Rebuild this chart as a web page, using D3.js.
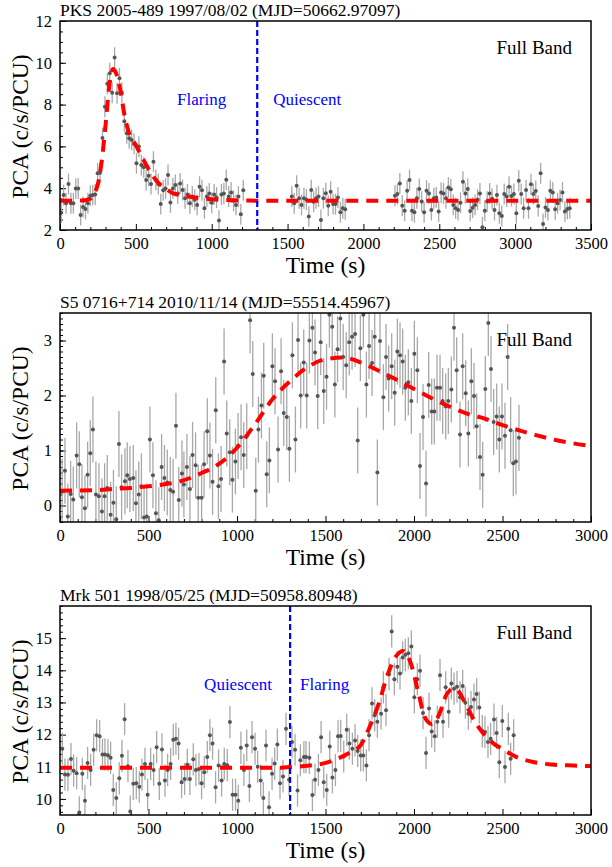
<!DOCTYPE html>
<html><head><meta charset="utf-8">
<script src="https://cdn.jsdelivr.net/npm/d3@7"></script>
<style>body{margin:0;background:#fff} svg{display:block} text{font-family:"Liberation Serif","Times New Roman",serif;fill:#000}</style>
</head><body><svg id="c" width="612" height="867"></svg>
<script>
// ---------------- DATA ----------------
const titles = ["PKS 2005-489 1997/08/02 (MJD=50662.97097)",
                "S5 0716+714 2010/11/14 (MJD=55514.45967)",
                "Mrk 501 1998/05/25 (MJD=50958.80948)"];
const xTickLabels1 = [0,500,1000,1500,2000,2500,3000,3500];
const xTickLabels23 = [0,500,1000,1500,2000,2500,3000];
const yTickLabels1 = [2,4,6,8,10,12];
const yTickLabels2 = [0,1,2,3];
const yTickLabels3 = [10,11,12,13,14,15];

// panel 1 light curve [time, rate]
const p1Points = [[8,2.83],[24,3.67],[40,3.28],[56,4.2],[72,3.28],[88,3.28],[104,3.98],[120,3.98],[136,2.72],[152,3.1],[168,3.0],[184,3.28],[200,3.64],[216,3.67],[232,3.7],[248,4.71],[264,4.74],[280,6.4],[296,7.9],[312,9.0],[328,9.5],[344,8.57],[360,10.25],[376,8.54],[392,9.26],[408,8.57],[424,7.2],[440,6.63],[456,6.39],[472,6.31],[488,6.12],[504,5.19],[520,5.99],[536,5.11],[552,5.0],[568,4.39],[584,4.6],[600,4.2],[616,5.27],[632,4.4],[648,4.2],[664,3.24],[680,3.9],[696,3.99],[712,4.63],[728,3.32],[744,3.99],[760,4.15],[776,3.75],[792,4.23],[808,3.91],[824,3.52],[840,3.7],[856,3.28],[872,3.6],[888,3.45],[904,3.2],[920,4.07],[936,3.9],[952,3.04],[968,3.6],[984,3.75],[1000,3.3],[1016,3.7],[1032,3.55],[1048,2.45],[1064,3.7],[1080,3.75],[1096,4.4],[1112,3.6],[1128,3.8],[1144,3.4],[1160,3.2],[1176,3.6],[1192,2.75],[1208,3.9],
[1528,3.6],[1544,3.28],[1560,4.12],[1576,3.52],[1592,3.2],[1608,3.52],[1624,3.45],[1640,2.64],[1656,3.91],[1672,3.35],[1688,3.52],[1704,3.6],[1720,2.48],[1736,3.52],[1752,3.76],[1768,3.16],[1784,3.83],[1800,3.24],[1816,3.24],[1832,3.55],[1848,2.85],[1864,3.04],[1880,2.99],
[2208,3.64],[2224,3.72],[2240,4.23],[2256,3.16],[2272,2.92],[2288,3.88],[2304,4.39],[2320,2.92],[2336,2.85],[2352,3.52],[2368,3.96],[2384,3.36],[2400,2.85],[2416,3.88],[2432,3.75],[2448,2.96],[2464,3.52],[2480,3.56],[2496,2.88],[2512,3.79],[2528,3.75],[2544,3.52],[2560,4.03],[2576,3.95],[2592,3.2],[2608,3.04],[2624,2.96],[2640,3.3],[2656,4.31],[2672,3.75],[2688,3.96],[2704,2.91],[2720,3.07],[2736,3.2],[2752,3.45],[2768,3.75],[2784,2.13],[2800,2.92],[2816,3.36],[2832,3.75],[2848,3.5],[2864,2.96],[2880,3.67],[2896,2.8],[2912,2.67],[2928,3.72],[2944,3.6],[2960,4.07],[2976,3.63],[2992,3.72],[3008,2.8],[3024,4.36],[3040,3.72],[3056,3.04],[3072,3.91],[3088,3.04],[3104,4.19],[3120,3.72],[3136,3.87],[3152,3.15],[3168,4.71],[3184,2.29],[3200,3.08],[3216,2.96],[3232,3.88],[3248,3.8],[3264,2.99],[3280,3.28],[3296,3.44],[3312,3.8],[3328,2.88],[3344,3.01],[3360,3.04]];
const p1Err = 0.5;
const p1Model = [[0,3.4],[150,3.41],[200,3.5],[225,3.75],[250,4.2],[275,5.3],[300,7.0],[325,8.9],[350,9.7],[375,9.4],[400,8.6],[425,7.5],[450,6.75],[500,6.06],[550,5.36],[600,4.72],[650,4.24],[700,3.96],[750,3.74],[800,3.66],[900,3.54],[1000,3.47],[1100,3.43],[1200,3.41],[1300,3.4],[3500,3.4]];

// panel 2
const p2Points = [[12,0.25],[28,0.63],[44,-0.2],[60,0.21],[75,0.11],[94,0.91],[109,0.75],[124,0.15],[141,-0.05],[156,0.56],[171,0.95],[186,1.38],[203,0.2],[220,0.17],[237,-0.11],[252,0.17],[267,0.32],[286,-0.17],[302,0.05],[318,-0.25],[333,1.12],[348,0.33],[367,0.44],[380,0.55],[395,0.48],[414,0.5],[429,0.04],[445,0.2],[460,0.35],[475,-0.22],[490,-0.2],[508,1.2],[525,0.55],[542,-0.14],[558,-0.27],[574,0.7],[590,0.5],[606,0.42],[623,0.28],[639,0.25],[655,1.45],[671,0.1],[689,0.58],[700,0.38],[717,0.7],[734,0.3],[749,0.92],[766,0.73],[781,0.14],
[800,0.14],[814,0.75],[832,1.35],[847,0.91],[862,0.43],[880,1.73],[895,0.35],[910,0.48],[927,2.62],[942,1.31],[959,0.97],[974,0.47],[991,0.8],[1006,1.08],[1023,1.24],[1038,0.92],[1055,1.26],[1074,3.37],[1089,2.39],[1106,0.27],[1121,1.38],[1138,1.82],[1151,2.36],[1168,0.57],[1183,0.82],[1200,2.53],[1215,2.26],[1232,1.02],[1249,2.44],[1264,1.68],[1281,1.61],[1296,1.03],[1313,2.73],[1330,1.2],[1345,3.01],[1360,2.0],[1377,2.6],[1394,2.0],
[1409,3.0],[1426,3.23],[1441,2.78],[1456,1.99],[1473,2.97],[1490,2.08],[1506,2.34],[1522,3.47],[1538,3.25],[1553,2.2],[1568,2.84],[1584,3.4],[1600,2.7],[1617,2.55],[1634,2.97],[1650,3.07],[1667,3.12],[1682,1.18],[1697,2.86],[1714,3.47],[1731,2.2],[1746,2.9],[1763,2.59],[1778,3.07],[1793,0.6],[1808,2.99],[1827,1.97],[1842,2.7],[1857,2.31],[1874,2.53],[1891,2.05],[1906,2.8],[1921,2.73],[1936,2.62],[1951,2.14],[1968,2.24],[1985,1.9],[2002,2.76],[2019,2.46],[2034,0.72],[2051,1.61],[2068,0.4],[2083,2.19],[2100,1.71],[2115,1.71],[2130,2.14],[2147,2.14],[2162,1.9],[2179,1.8],[2194,1.9],[2211,2.11],[2226,3.23],[2241,2.46],[2260,1.29],[2275,2.53],[2292,2.04],[2307,1.31],[2324,2.26],[2339,1.99],[2354,1.44],[2373,0.88],[2388,0.56],[2403,2.12],[2420,3.32],[2435,2.48],[2450,1.52],[2467,1.62],[2482,1.2],[2497,1.62],[2514,1.27],[2529,2.7],[2546,1.37],[2561,0.77],[2576,0.8],[2593,1.23]];
const p2Err = 0.6;
const p2Model = [[0,0.27],[200,0.28],[300,0.3],[400,0.32],[500,0.35],[600,0.39],[700,0.46],[800,0.59],[900,0.76],[1000,1.05],[1100,1.47],[1200,1.93],[1300,2.26],[1400,2.52],[1500,2.66],[1600,2.69],[1700,2.6],[1800,2.45],[1900,2.29],[2000,2.12],[2100,1.95],[2200,1.8],[2300,1.67],[2400,1.58],[2500,1.46],[2600,1.36],[2700,1.27],[2800,1.19],[2900,1.13],[3000,1.08]];

// panel 3
const p3Points = [[13,11.56],[28,10.76],[45,10.75],[62,11.24],[77,10.88],[94,10.8],[109,9.58],[126,10.78],[141,9.94],[156,11.12],[173,10.9],[190,11.53],[207,11.98],[224,11.95],[240,11.38],[254,11.38],[271,11.36],[286,11.28],[301,10.28],[318,10.03],[335,10.64],[350,11.34],[365,12.48],[384,11.02],[397,9.61],[414,10.47],[431,10.49],[448,10.38],[463,10.76],[480,11.09],[495,10.13],[512,11.09],[529,10.9],[546,11.61],[561,10.47],[576,11.54],[593,10.57],[608,10.9],[625,11.09],[640,11.84],[655,11.87],[670,11.72],[687,10.52],[704,10.62],[719,11.06],[734,10.62],[753,11.23],[768,10.9],[785,10.93],[800,10.49],[815,10.83],[832,11.3],[847,11.98],[862,11.72],[879,10.36],[896,11.04],[913,10.57],[928,11.09],[945,11.05],[960,12.39],[975,10.13],[992,10.13],[1007,9.94],[1022,11.59],[1039,10.9],[1055,11.66],[1070,10.4],[1085,11.92],[1102,11.56],[1117,11.0],[1134,10.57],[1149,10.03],[1164,11.66],[1181,9.74],[1198,10.78],[1213,11.1],[1228,11.69],[1243,10.49],[1260,10.7],[1277,12.18],[1294,10.6],[1311,11.77],[1328,11.53],[1342,10.26],[1358,11.2],[1378,11.3],
[1390,11.3],[1409,11.28],[1426,10.12],[1441,10.6],[1460,10.9],[1475,11.92],[1490,10.52],[1507,10.28],[1524,11.63],[1539,10.67],[1556,10.9],[1571,11.95],[1586,11.96],[1603,11.32],[1620,12.15],[1635,11.72],[1652,11.56],[1667,11.82],[1682,11.49],[1699,11.35],[1714,11.35],[1731,11.04],[1746,11.98],[1763,12.97],[1778,12.6],[1793,12.4],
[1814,12.65],[1827,13.47],[1842,12.76],[1859,13.88],[1874,15.21],[1889,13.72],[1906,14.11],[1921,13.9],[1936,14.4],[1951,14.48],[1968,14.53],[1985,14.74],[2002,13.16],[2019,13.72],[2034,13.99],[2051,12.67],[2068,11.43],[2085,12.81],[2100,12.1],[2117,11.95],[2132,12.4],[2147,13.85],[2164,12.4],[2179,13.47],[2196,12.71],[2211,13.59],[2226,13.43],[2243,13.49],[2260,13.16],[2275,13.51],[2290,12.99],[2307,12.65],[2322,12.86],[2339,13.09],[2354,13.26],[2369,12.84],[2386,12.11],[2401,12.08],[2418,11.77],[2433,11.87],[2452,12.47],[2467,12.05],[2482,11.14],[2499,12.42],[2514,10.99],[2533,12.18],[2546,11.25],[2563,11.98]];
const p3Err = 0.5;
const p3Model = [[0,10.97],[1250,10.97],[1300,10.99],[1400,11.03],[1500,11.12],[1600,11.33],[1650,11.48],[1700,11.68],[1750,12.25],[1800,12.95],[1850,13.85],[1900,14.45],[1940,14.6],[1980,14.25],[2025,13.3],[2060,12.55],[2100,12.33],[2140,12.6],[2180,13.2],[2220,13.43],[2245,13.38],[2300,12.86],[2350,12.35],[2400,11.98],[2450,11.72],[2500,11.55],[2580,11.3],[2680,11.14],[2780,11.07],[2900,11.04],[3000,11.02]];

const divideTime = 1300;

// ---------------- DRAW ----------------
const svg = d3.select("#c");
const L = 60, R = 591;
const panels = [
  {title: titles[0], top: 21, bottom: 230, xDom: [0,3500], yDom: [2,12], xt: xTickLabels1, yt: yTickLabels1, xMinor: 100, yMinor: 0.5,
   pts: p1Points, err: p1Err, model: p1Model, vline: true, leftLab: "Flaring", rightLab: "Quiescent", leftGap: 31, rightGap: 16},
  {title: titles[1], top: 313, bottom: 522, xDom: [0,3000], yDom: [-0.3,3.5], xt: xTickLabels23, yt: yTickLabels2, xMinor: 100, yMinor: 0.1,
   pts: p2Points, err: p2Err, model: p2Model, vline: false},
  {title: titles[2], top: 606, bottom: 815, xDom: [0,3000], yDom: [9.5,16], xt: xTickLabels23, yt: yTickLabels3, xMinor: 100, yMinor: 0.2,
   pts: p3Points, err: p3Err, model: p3Model, vline: true, leftLab: "Quiescent", rightLab: "Flaring", leftGap: 18, rightGap: 10}
];

panels.forEach((p, i) => {
  const x = d3.scaleLinear().domain(p.xDom).range([L, R]);
  const y = d3.scaleLinear().domain(p.yDom).range([p.bottom, p.top]);
  const g = svg.append("g");
  const cid = "clip" + i;
  svg.append("clipPath").attr("id", cid).append("rect")
    .attr("x", L).attr("y", p.top).attr("width", R - L).attr("height", p.bottom - p.top);

  // title
  g.append("text").attr("x", L).attr("y", p.top - 5).attr("font-size", 17.5).text(p.title);

  // minor ticks
  const xMin = d3.range(p.xDom[0], p.xDom[1] + 1e-9, p.xMinor).filter(v => !p.xt.includes(v));
  const yStart = Math.ceil(p.yDom[0] / p.yMinor - 1e-9) * p.yMinor;
  const yMin = d3.range(yStart, p.yDom[1] + 1e-9, p.yMinor);
  g.append("g").attr("transform", `translate(0,${p.bottom})`)
    .call(d3.axisBottom(x).tickValues(xMin).tickSize(-3).tickFormat(""))
    .call(s => s.select(".domain").remove());
  g.append("g").attr("transform", `translate(${L},0)`)
    .call(d3.axisLeft(y).tickValues(yMin).tickSize(-3).tickFormat(""))
    .call(s => s.select(".domain").remove());
  // major ticks
  const ax = g.append("g").attr("transform", `translate(0,${p.bottom})`)
    .call(d3.axisBottom(x).tickValues(p.xt).tickSize(-6).tickPadding(7).tickFormat(d3.format("d")));
  ax.select(".domain").remove();
  ax.selectAll("text").attr("font-size", 16.5).attr("font-family", '"Liberation Serif",serif');
  const ay = g.append("g").attr("transform", `translate(${L},0)`)
    .call(d3.axisLeft(y).tickValues(p.yt).tickSize(-6).tickPadding(8).tickFormat(d3.format("d")));
  ay.select(".domain").remove();
  ay.selectAll("text").attr("font-size", 16.5).attr("font-family", '"Liberation Serif",serif');
  g.selectAll(".tick line").attr("stroke", "#000").attr("stroke-width", 1);

  // axis labels
  g.append("text").attr("x", (L + R) / 2).attr("y", p.bottom + 43).attr("text-anchor", "middle")
    .attr("font-size", 23.5).text("Time (s)");
  g.append("text").attr("transform", `translate(28,${(p.top + p.bottom) / 2 + 1}) rotate(-90)`)
    .attr("text-anchor", "middle").attr("font-size", 23.5).text("PCA (c/s/PCU)");

  const pg = g.append("g").attr("clip-path", `url(#${cid})`);
  // error bars
  pg.selectAll("line.eb").data(p.pts).join("line").attr("class", "eb")
    .attr("x1", d => x(d[0])).attr("x2", d => x(d[0]))
    .attr("y1", d => y(d[1] - p.err)).attr("y2", d => y(d[1] + p.err))
    .attr("stroke", "#a8a8a8").attr("stroke-width", 1.3);
  // points
  pg.selectAll("circle").data(p.pts).join("circle")
    .attr("cx", d => x(d[0])).attr("cy", d => y(d[1])).attr("r", 2)
    .attr("fill", "#555");
  // model
  const line = d3.line().x(d => x(d[0])).y(d => y(d[1])).curve(d3.curveMonotoneX);
  pg.append("path").datum(p.model).attr("d", line).attr("fill", "none")
    .attr("stroke", "#ff0000").attr("stroke-width", 4).attr("stroke-dasharray", "12,8");

  // divider
  if (p.vline) {
    const xv = x(divideTime);
    g.append("line").attr("x1", xv).attr("x2", xv).attr("y1", p.top).attr("y2", p.bottom)
      .attr("stroke", "#0000ff").attr("stroke-width", 2.2).attr("stroke-dasharray", "6,3");
    g.append("text").attr("x", xv - p.leftGap).attr("y", p.top + 84).attr("text-anchor", "end")
      .attr("font-size", 17).style("fill", "#0000ff").text(p.leftLab);
    g.append("text").attr("x", xv + p.rightGap).attr("y", p.top + 84)
      .attr("font-size", 17).style("fill", "#0000ff").text(p.rightLab);
  }
  g.append("text").attr("x", 572).attr("y", p.top + 33).attr("text-anchor", "end")
    .attr("font-size", 19).text("Full Band");

  // frame
  g.append("rect").attr("x", L).attr("y", p.top).attr("width", R - L).attr("height", p.bottom - p.top)
    .attr("fill", "none").attr("stroke", "#000").attr("stroke-width", 1.5);
});
</script></body></html>
